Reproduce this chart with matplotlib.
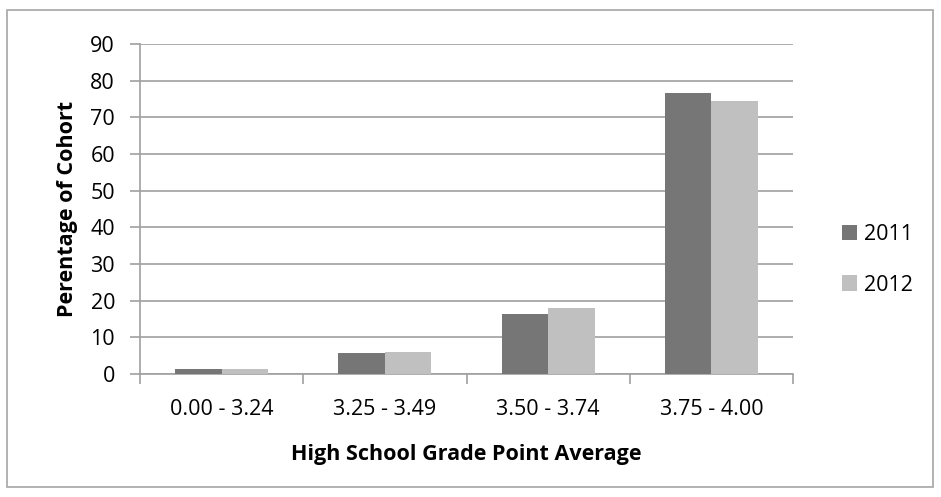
import matplotlib
matplotlib.use("Agg")
import matplotlib.pyplot as plt
from matplotlib.patches import Rectangle
import numpy as np

categories = ["0.00 - 3.24", "3.25 - 3.49", "3.50 - 3.74", "3.75 - 4.00"]
series_names = ["2011", "2012"]
values_2011 = [1.3, 5.6, 16.4, 76.6]
values_2012 = [1.5, 6.0, 17.9, 74.4]
colors = ["#767676", "#c0c0c0"]
y_ticks = [0, 10, 20, 30, 40, 50, 60, 70, 80, 90]

plt.rcParams["font.family"] = ["Open Sans", "DejaVu Sans"]

W, H = 941, 497
fig = plt.figure(figsize=(W / 100, H / 100), dpi=100)
fig.patch.set_facecolor("white")

# outer chart border
fig.add_artist(Rectangle((7 / W, 1 - 487 / H), 926 / W, 477 / H,
                         transform=fig.transFigure, fill=False,
                         edgecolor="#a6a6a6", linewidth=1.2))

ax = fig.add_axes([140 / W, 1 - 374 / H, 653 / W, 330 / H])

x = np.arange(len(categories))
bw = 0.285
ax.bar(x - bw / 2, values_2011, bw, color=colors[0], label=series_names[0], zorder=3)
ax.bar(x + bw / 2, values_2012, bw, color=colors[1], label=series_names[1], zorder=3)

ax.set_xlim(-0.5, len(categories) - 0.5)
ax.set_ylim(0, 90)
ax.set_yticks(y_ticks)
ax.yaxis.grid(True, color="#a0a0a0", linewidth=1.2, zorder=0)
ax.set_axisbelow(True)

for s in ["top", "right"]:
    ax.spines[s].set_visible(False)
for s in ["left", "bottom"]:
    ax.spines[s].set_color("#a0a0a0")
    ax.spines[s].set_linewidth(1.2)

ax.tick_params(axis="y", length=7, width=1.2, color="#a0a0a0", labelsize=15.5, pad=11)
ax.set_xticks(x)
ax.set_xticklabels(categories)
ax.tick_params(axis="x", length=0, labelsize=15.5, pad=18)
ax.set_xticks(np.arange(len(categories) + 1) - 0.5, minor=True)
ax.tick_params(axis="x", which="minor", length=7, width=1.2, color="#a0a0a0")

ax.set_xlabel("High School Grade Point Average", fontsize=15.5, fontweight="bold", labelpad=17)
ax.set_ylabel("Perentage of Cohort", fontsize=15.5, fontweight="bold", labelpad=9)

leg = fig.legend(loc="center left", bbox_to_anchor=(842 / W, 1 - 260 / H),
                 frameon=False, fontsize=15.5, handlelength=0.7, handleheight=0.7,
                 handletextpad=0.3, labelspacing=1.35, borderpad=0, borderaxespad=0)

fig.savefig("out.png", dpi=100)
